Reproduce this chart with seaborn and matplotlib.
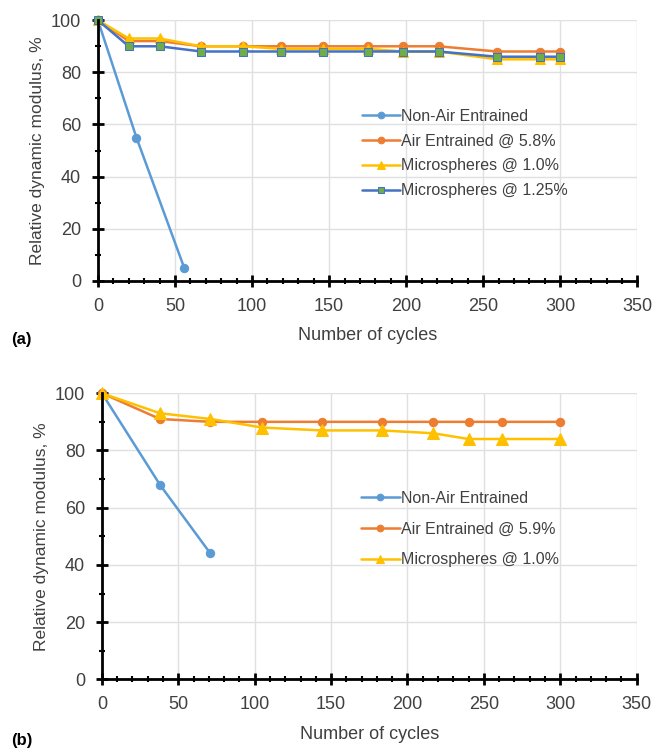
import numpy as np
import pandas as pd
import matplotlib
matplotlib.use("Agg")
import matplotlib.pyplot as plt
import seaborn as sns
from matplotlib.ticker import MultipleLocator

# Panel (a) data
A_NON_X = [0, 25, 56]
A_NON_Y = [100, 55, 5]
A_X = [0, 20, 40, 67, 94, 119, 146, 175, 198, 221, 259, 287, 300]
A_AIR_Y = [100, 92, 92, 90, 90, 90, 90, 90, 90, 90, 88, 88, 88]
A_MS10_Y = [100, 93, 93, 90, 90, 89, 89, 89, 88, 88, 85, 85, 85]
A_MS125_Y = [100, 90, 90, 88, 88, 88, 88, 88, 88, 88, 86, 86, 86]

# Panel (b) data
B_NON_X = [0, 38, 71]
B_NON_Y = [100, 68, 44]
B_X = [0, 38, 71, 105, 144, 183, 217, 240, 262, 300]
B_AIR_Y = [100, 91, 90, 90, 90, 90, 90, 90, 90, 90]
B_MS10_Y = [100, 93, 91, 88, 87, 87, 86, 84, 84, 84]

BLUE = "#5B9BD5"
ORANGE = "#ED7D31"
YELLOW = "#FFC000"
DBLUE = "#4472C4"
GREEN = "#70AD47"
TXT = "#404040"

sns.set_theme(style="white")
plt.rcParams['font.family'] = ['Liberation Sans', 'DejaVu Sans']

fig = plt.figure(figsize=(6.66, 7.49), dpi=100)
ax_a = fig.add_axes([0.147, 0.625, 0.81, 0.348])
ax_b = fig.add_axes([0.153, 0.093, 0.803, 0.382])


def style_axes(ax):
    ax.set_xlim(0, 350)
    ax.set_ylim(0, 100)
    ax.set_xticks(np.arange(0, 351, 50))
    ax.set_yticks(np.arange(0, 101, 20))
    ax.xaxis.set_minor_locator(MultipleLocator(10))
    ax.yaxis.set_minor_locator(MultipleLocator(10))
    ax.grid(True, which="major", color="#e0e0e0", lw=1)
    ax.set_axisbelow(True)
    for s in ["top", "right"]:
        ax.spines[s].set_visible(False)
    for s in ["left", "bottom"]:
        ax.spines[s].set_color("black")
        ax.spines[s].set_linewidth(2)
    ax.tick_params(which="major", direction="inout", length=8, width=2, color="black",
                   labelsize=13, labelcolor=TXT)
    ax.tick_params(axis="x", which="major", pad=8)
    ax.tick_params(axis="y", which="major", pad=8)
    ax.tick_params(which="minor", direction="inout", length=5, width=1.5, color="black")
    ax.tick_params(axis="both", which="both", bottom=True, left=True)
    ax.set_xlabel("Number of cycles", fontsize=13, color=TXT, labelpad=9)
    ax.set_ylabel("Relative dynamic modulus, %", fontsize=12.5, color=TXT, labelpad=4)


def series(ax, x, y, color, marker, label, mfc=None, ms=6):
    df = pd.DataFrame({"x": x, "y": y})
    sns.lineplot(data=df, x="x", y="y", ax=ax, color=color, marker=marker, lw=1.8,
                 markersize=ms, markerfacecolor=mfc or color, markeredgecolor=color,
                 label=label, clip_on=False)


series(ax_a, A_NON_X, A_NON_Y, BLUE, "o", "Non-Air Entrained")
series(ax_a, A_X, A_AIR_Y, ORANGE, "o", "Air Entrained @ 5.8%")
series(ax_a, A_X, A_MS10_Y, YELLOW, "^", "Microspheres @ 1.0%", ms=7)
series(ax_a, A_X, A_MS125_Y, DBLUE, "s", "Microspheres @ 1.25%", mfc=GREEN)
style_axes(ax_a)
ax_a.legend(loc="upper left", bbox_to_anchor=(0.462, 0.716), frameon=False, fontsize=11.5,
            labelcolor=TXT, handlelength=2.4, handletextpad=0.1, labelspacing=0.62,
            markerscale=0.8)

series(ax_b, B_NON_X, B_NON_Y, BLUE, "o", "Non-Air Entrained")
series(ax_b, B_X, B_AIR_Y, ORANGE, "o", "Air Entrained @ 5.9%")
series(ax_b, B_X, B_MS10_Y, YELLOW, "^", "Microspheres @ 1.0%", ms=8)
style_axes(ax_b)
ax_b.legend(loc="upper left", bbox_to_anchor=(0.458, 0.71), frameon=False, fontsize=11.5,
            labelcolor=TXT, handlelength=2.4, handletextpad=0.1, labelspacing=0.99,
            markerscale=0.8)

fig.text(0.016, 0.547, "(a)", fontsize=12, fontweight="bold", color="black", va="center")
fig.text(0.016, 0.012, "(b)", fontsize=12, fontweight="bold", color="black", va="center")

fig.savefig("out.png", dpi=100)
